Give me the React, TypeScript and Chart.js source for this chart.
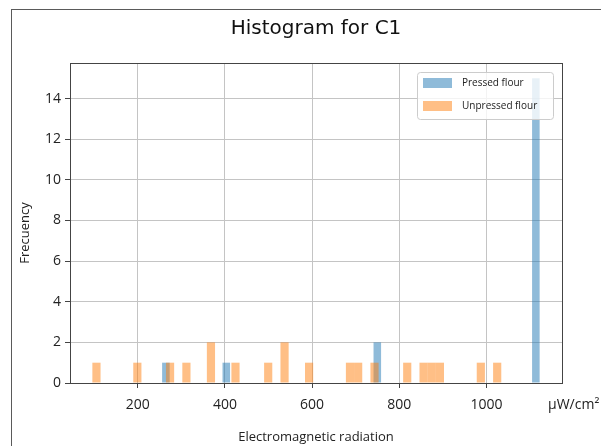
import { useEffect, useRef } from "react";
import { Chart, registerables } from "chart.js";

Chart.register(...registerables);

// ---- data ----
const pressedLabel = "Pressed flour";
const unpressedLabel = "Unpressed flour";
const pressedRange = [256, 1122];
const pressedCounts = [
  1, 0, 0, 0, 0, 0, 0, 0, 1, 0,
  0, 0, 0, 0, 0, 0, 0, 0, 0, 0,
  0, 0, 0, 0, 0, 0, 0, 0, 2, 0,
  0, 0, 0, 0, 0, 0, 0, 0, 0, 0,
  0, 0, 0, 0, 0, 0, 0, 0, 0, 15,
];
const unpressedRange = [96, 1034];
const unpressedCounts = [
  1, 0, 0, 0, 0, 1, 0, 0, 0, 1,
  0, 1, 0, 0, 2, 0, 0, 1, 0, 0,
  0, 1, 0, 2, 0, 0, 1, 0, 0, 0,
  0, 1, 1, 0, 1, 0, 0, 0, 1, 0,
  1, 1, 1, 0, 0, 0, 0, 1, 0, 1,
];
const xLimits = [44.7, 1173.3];
const yLimits = [0, 15.75];
const xTickValues = [200, 400, 600, 800, 1000];
const yTickValues = [0, 2, 4, 6, 8, 10, 12, 14];

const titleText = "Histogram for C1";
const xTitle = "Electromagnetic radiation";
const yTitle = "Frecuency";
const unitText = "μW/cm²";

// ---- layout constants ----
const CANVAS_W = 601;
const CANVAS_H = 446;
const PAD_RIGHT = 39;
const Y_AXIS_W = 70;
const PLOT_W = CANVAS_W - PAD_RIGHT - Y_AXIS_W;

const binCenters = (range: number[], n: number) =>
  Array.from({ length: n }, (_, k) => range[0] + ((k + 0.5) * (range[1] - range[0])) / n);
// pixel width of one histogram bin on the x scale
const binPixels = (range: number[], n: number) =>
  (((range[1] - range[0]) / n) * PLOT_W) / (xLimits[1] - xLimits[0]);

const BLUE = "rgba(31,119,180,0.5)";
const ORANGE = "rgba(255,127,14,0.5)";
const TICK_FONT = { family: "'Open Sans', sans-serif", size: 14 };

const decorPlugin = {
  id: "decor",
  afterDraw(chart: any) {
    const { ctx, chartArea: a } = chart;
    ctx.save();
    // spines
    ctx.strokeStyle = "#444";
    ctx.lineWidth = 1;
    const l = Math.round(a.left) + 0.5;
    const t = Math.round(a.top) + 0.5;
    const r = Math.round(a.right) + 0.5;
    const b = Math.round(a.bottom) + 0.5;
    ctx.strokeRect(l, t, r - l, b - t);

    // y title
    ctx.fillStyle = "#222";
    ctx.font = "13px 'Open Sans', sans-serif";
    ctx.textAlign = "center";
    ctx.textBaseline = "middle";
    ctx.save();
    ctx.translate(a.left - 45, (a.top + a.bottom) / 2 + 10);
    ctx.rotate(-Math.PI / 2);
    ctx.fillText(yTitle, 0, 0);
    ctx.restore();

    // unit text
    ctx.font = "14px 'Open Sans', sans-serif";
    ctx.textAlign = "left";
    ctx.fillText(unitText, a.right - 14, a.bottom + 22);

    // legend
    const bw = 136, bh = 47;
    const bx = a.right - 9 - bw;
    const by = a.top + 9;
    ctx.beginPath();
    if (ctx.roundRect) ctx.roundRect(bx + 0.5, by + 0.5, bw, bh, 3);
    else ctx.rect(bx + 0.5, by + 0.5, bw, bh);
    ctx.fillStyle = "rgba(255,255,255,0.8)";
    ctx.fill();
    ctx.strokeStyle = "#cccccc";
    ctx.stroke();
    ctx.font = "10px 'Open Sans', sans-serif";
    ctx.textBaseline = "middle";
    chart.data.datasets.forEach((ds: any, i: number) => {
      const y = by + 6 + i * 23;
      ctx.fillStyle = ds.backgroundColor;
      ctx.fillRect(bx + 6, y, 29, 10);
      ctx.fillStyle = "#222";
      ctx.fillText(ds.label, bx + 45, y + 5);
    });
    ctx.restore();
  },
};

const barCommon = {
  borderWidth: 0,
  barPercentage: 1,
  categoryPercentage: 1,
  grouped: false,
  inflateAmount: 0,
};

export default function App() {
  const ref = useRef<HTMLCanvasElement>(null);

  useEffect(() => {
    if (!ref.current) return;
    const pc = binCenters(pressedRange, pressedCounts.length);
    const uc = binCenters(unpressedRange, unpressedCounts.length);
    const chart = new Chart(ref.current, {
      type: "bar",
      data: {
        datasets: [
          {
            ...barCommon,
            label: pressedLabel,
            data: pc.map((x, i) => ({ x, y: pressedCounts[i] })),
            backgroundColor: BLUE,
            barThickness: binPixels(pressedRange, pressedCounts.length),
            xAxisID: "xp",
            order: 1,
          },
          {
            ...barCommon,
            label: unpressedLabel,
            data: uc.map((x, i) => ({ x, y: unpressedCounts[i] })),
            backgroundColor: ORANGE,
            barThickness: binPixels(unpressedRange, unpressedCounts.length),
            xAxisID: "x",
            order: 0,
          },
        ] as any,
      },
      options: {
        responsive: false,
        animation: false,
        devicePixelRatio: 1,
        layout: { padding: { left: 0, right: PAD_RIGHT, top: 0, bottom: 0 } },
        plugins: {
          legend: { display: false },
          tooltip: { enabled: false },
          title: {
            display: true,
            text: titleText,
            fullSize: false,
            color: "#111",
            font: { family: "'DejaVu Sans', sans-serif", size: 20, weight: "normal" },
            padding: { top: 17, bottom: 22 },
          },
        },
        scales: {
          x: {
            type: "linear",
            position: "bottom",
            min: xLimits[0],
            max: xLimits[1],
            offset: false,
            z: 1,
            afterBuildTicks: (axis: any) => {
              axis.ticks = xTickValues.map((v) => ({ value: v }));
            },
            afterFit: (axis: any) => {
              axis.height = 63;
            },
            ticks: {
              includeBounds: false,
              font: TICK_FONT,
              color: "#222",
              padding: 9,
              maxRotation: 0,
              callback: (v: any) => String(v),
            },
            grid: {
              offset: false,
              color: "#c4c4c4",
              lineWidth: 1,
              drawTicks: true,
              tickLength: 5,
              tickColor: "#444",
            },
            border: { display: false },
            title: {
              display: true,
              text: xTitle,
              color: "#222",
              font: { family: "'Open Sans', sans-serif", size: 13 },
              padding: { top: 0, bottom: 1 },
            },
          },
          xp: {
            type: "linear",
            display: false,
            min: xLimits[0],
            max: xLimits[1],
            offset: false,
            grid: { offset: false },
          },
          y: {
            type: "linear",
            min: yLimits[0],
            max: yLimits[1],
            stacked: false,
            z: 1,
            afterBuildTicks: (axis: any) => {
              axis.ticks = yTickValues.map((v) => ({ value: v }));
            },
            afterFit: (axis: any) => {
              axis.width = Y_AXIS_W;
            },
            ticks: {
              includeBounds: false,
              font: TICK_FONT,
              color: "#222",
              padding: 4,
              callback: (v: any) => String(v),
            },
            grid: {
              color: "#c4c4c4",
              lineWidth: 1,
              drawTicks: true,
              tickLength: 5,
              tickColor: "#444",
            },
            border: { display: false },
          },
        },
      } as any,
      plugins: [decorPlugin],
    });
    return () => chart.destroy();
  }, []);

  return (
    <div style={{ position: "fixed", left: 0, top: 0, width: CANVAS_W, height: CANVAS_H, background: "#fff" }}>
      <div
        style={{
          position: "absolute",
          left: 11,
          top: 9,
          right: 0,
          bottom: 0,
          borderLeft: "1px solid #5a5a5a",
          borderTop: "1px solid #5a5a5a",
        }}
      />
      <canvas
        ref={ref}
        width={CANVAS_W}
        height={CANVAS_H}
        style={{ position: "absolute", left: 0, top: 0, display: "block" }}
      />
    </div>
  );
}
